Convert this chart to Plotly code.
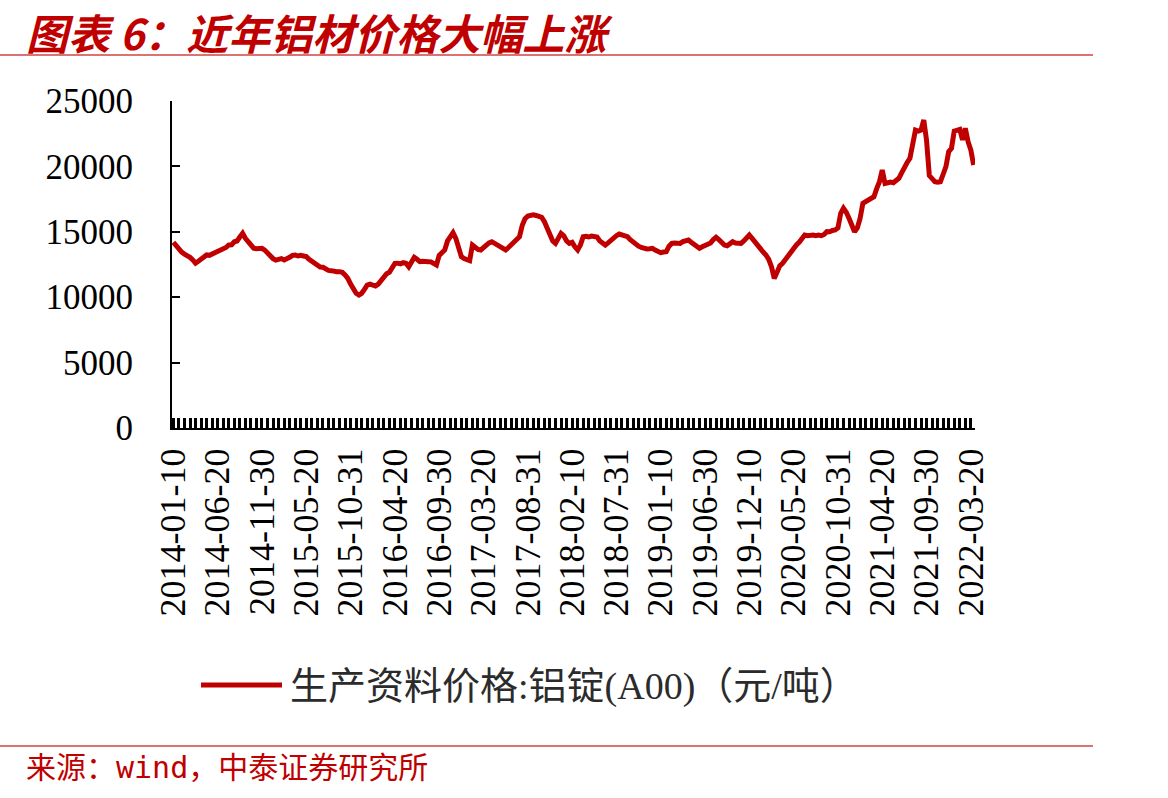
import calendar
import plotly.graph_objects as go

# ---------------- data ----------------
series_name = "生产资料价格:铝锭(A00)（元/吨）"
start_date = "2014-01-10"
end_date = "2022-03-31"
skipped_dates = ["2015-02-20", "2016-02-10", "2017-01-31", "2018-02-20",
                 "2019-02-10", "2021-02-20", "2022-02-10"]

tick_labels = ["2014-01-10", "2014-06-20", "2014-11-30", "2015-05-20", "2015-10-31",
               "2016-04-20", "2016-09-30", "2017-03-20", "2017-08-31", "2018-02-10",
               "2018-07-31", "2019-01-10", "2019-06-30", "2019-12-10", "2020-05-20",
               "2020-10-31", "2021-04-20", "2021-09-30", "2022-03-20"]

prices = [
    14200, 13900, 13600, 13450, 13300, 13200, 13050, 12850, 12600, 12750,
    12950, 13150, 13230, 13200, 13300, 13350, 13400, 13550, 13600, 13800,
    13990, 14000, 14240, 14300, 14600, 14880, 14500, 14240, 13900, 13750,
    13700, 13750, 13735, 13600, 13350, 13150, 12950, 12840, 12900, 12950,
    12840, 12900, 13050, 13200, 13230, 13150, 13200, 13150, 13100,
    12900, 12720, 12600, 12450, 12300, 12285, 12150, 12050, 12030, 11950,
    11950, 11950, 11900, 11700, 11440, 11000, 10550, 10300, 10170, 10300,
    10600, 10930, 11000, 10900, 10850, 11000, 11300, 11450, 11800,
    11900, 12300, 12590, 12600, 12550, 12640, 12600, 12330, 12700, 13050,
    12900, 12717, 12750, 12700, 12717, 12700, 12550, 12460, 13200, 13480,
    13608, 14300, 14700, 14930, 14500, 13600, 13100, 12950, 12850, 12793,
    13990, 13800, 13650, 13608, 13800, 14000, 14150, 14243, 14100,
    13990, 13900, 13700, 13608, 13800, 14000, 14115, 14350, 14625, 15500,
    16000, 16200, 16284, 16300, 16250, 16220, 16100, 15773, 15300, 14880,
    14300, 14115, 14500, 14880, 14700, 14300, 14115, 14200, 13850,
    13608, 14000, 14625, 14650, 14600, 14670, 14650, 14600, 14300, 14100,
    13990, 14150, 14373, 14500, 14700, 14830, 14750, 14700, 14625, 14400,
    14200, 13990, 13900, 13800, 13700, 13685, 13700, 13735, 13600, 13450,
    13400, 13450, 13480, 13900, 14115, 14150, 14100, 14115, 14250,
    14300, 14373, 14200, 14060, 13900, 13735, 13850, 13950, 13990, 14150,
    14400, 14575, 14400, 14200, 13990, 13927, 14100, 14243, 14150, 14100,
    14115, 14300, 14600, 14755, 14500, 14200, 13990, 13700, 13450, 13226,
    12900, 12330, 11440, 11900, 12400, 12590, 12900, 13200, 13353, 13700,
    13990, 14200, 14500, 14755, 14700, 14750, 14755, 14700, 14750, 14700,
    14800, 15010, 15000, 15100, 15137, 15300, 16413, 16797, 16500, 16030,
    15500, 15010, 15300, 16030, 17180, 17300, 17480, 17600, 17680,
    18300, 18830, 19724, 18700, 18750, 18800, 18750, 18900, 19090, 19500,
    19980, 20300, 20620, 21800, 22780, 22700, 22780, 23550, 22000, 19300,
    19000, 18830, 18800, 18830, 19400, 19980, 21125, 21380, 22700, 22800,
    22830, 22020, 22910, 21890, 21250, 20100,
]

# ten-day (旬) observation dates
dates = []
for yr in range(2014, 2023):
    for mo in range(1, 13):
        last = calendar.monthrange(yr, mo)[1]
        for dd in (10, 20, last):
            s = f"{yr}-{mo:02d}-{dd:02d}"
            if start_date <= s <= end_date and s not in skipped_dates:
                dates.append(s)

# ---------------- layout geometry ----------------
W, H = 1168, 798
L, R, T, B = 172, 975, 101, 428
RED = "#C00000"
RULE = "#D04545"


def px(xp):
    return (xp - L) / (R - L)


def py(yp):
    return (B - yp) / (B - T)


tickvals = dates[::2]
ticktext = [d if d in tick_labels else "" for d in tickvals]

fig = go.Figure()
fig.add_trace(go.Scatter(
    x=dates, y=prices, mode="lines", name=series_name,
    line=dict(color=RED, width=5), showlegend=False,
))

fig.update_layout(
    width=W, height=H,
    margin=dict(l=L, r=W - R, t=T, b=H - B),
    paper_bgcolor="white", plot_bgcolor="white",
    font=dict(family="Liberation Serif, Noto Sans CJK SC", color="black"),
    xaxis=dict(
        type="category", range=[-0.5, len(dates) - 0.5],
        tickmode="array", tickvals=tickvals, ticktext=ticktext,
        ticks="inside", ticklen=10, tickwidth=2.5, tickcolor="black",
        tickangle=-90, tickfont=dict(size=36, family="Liberation Serif", color="black"),
        ticklabelstandoff=4,
        showline=True, linecolor="black", linewidth=2,
        showgrid=False, zeroline=False,
    ),
    yaxis=dict(
        range=[0, 25000], tickmode="linear", tick0=0, dtick=5000, tickformat="d",
        ticks="inside", ticklen=8, tickwidth=2, tickcolor="black",
        tickfont=dict(size=35, family="Liberation Serif", color="black"),
        ticklabelstandoff=30,
        showline=True, linecolor="black", linewidth=2,
        showgrid=False, zeroline=False,
    ),
    shapes=[
        dict(type="line", xref="paper", yref="paper",
             x0=px(0), x1=px(1093), y0=py(55), y1=py(55),
             line=dict(color=RULE, width=1.5)),
        dict(type="line", xref="paper", yref="paper",
             x0=px(0), x1=px(1093), y0=py(746), y1=py(746),
             line=dict(color=RULE, width=1.5)),
        dict(type="line", xref="paper", yref="paper",
             x0=px(201), x1=px(282), y0=py(685), y1=py(685),
             line=dict(color=RED, width=5)),
    ],
    annotations=[
        dict(text="图表 6：近年铝材价格大幅上涨", xref="paper", yref="paper",
             x=px(24), y=py(31), xanchor="left", yanchor="middle", showarrow=False,
             font=dict(size=42, color=RED, family="Noto Sans CJK SC",
                       weight="bold", style="italic")),
        dict(text=series_name, xref="paper", yref="paper",
             x=px(288), y=py(686), xanchor="left", yanchor="middle", showarrow=False,
             font=dict(size=38, color="#2b2b2b",
                       family="Liberation Serif, Noto Sans CJK SC")),
        dict(text="来源：wind，中泰证券研究所", xref="paper", yref="paper",
             x=px(24), y=py(768), xanchor="left", yanchor="middle", showarrow=False,
             font=dict(size=30, color=RED,
                       family="DejaVu Sans Mono, Noto Sans CJK SC")),
    ],
)

fig.write_html("out.html")
